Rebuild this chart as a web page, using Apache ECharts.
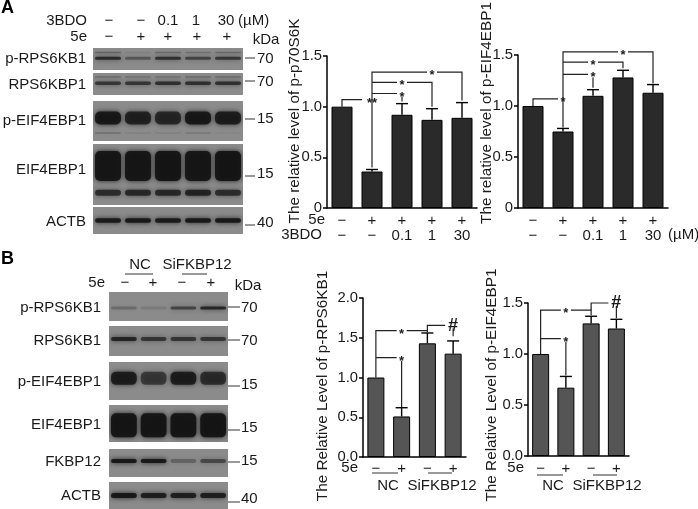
<!DOCTYPE html>
<html>
<head>
<meta charset="utf-8">
<title>3BDO blots</title>
<script src="https://cdn.jsdelivr.net/npm/echarts@6/dist/echarts.min.js"></script>
<style>
  html, body { margin: 0; padding: 0; background: #fff; }
  #main { width: 698px; height: 509px; }
</style>
</head>
<body>
<div id="main"></div>
<script>
// bar charts, panel A
const rowA5e = ["−", "+", "+", "+", "+"];
const rowA3bdo = ["−", "−", "0.1", "1", "30"];
const p70Values = [1.0, 0.36, 0.92, 0.87, 0.89];
const p70Tops = [1.0, 0.38, 1.03, 0.98, 1.04];
const peifAValues = [1.0, 0.75, 1.1, 1.28, 1.13];
const peifATops = [1.0, 0.78, 1.16, 1.35, 1.21];
const ticksA = ["0", "0.5", "1.0", "1.5"];

// bar charts, panel B
const rowB5e = ["−", "+", "−", "+"];
const rps6Values = [1.0, 0.51, 1.43, 1.3];
const rps6Tops = [1.0, 0.62, 1.56, 1.46];
const peifBValues = [1.0, 0.67, 1.3, 1.25];
const peifBTops = [1.0, 0.78, 1.37, 1.34];
const ticksB15 = ["0.0", "0.5", "1.0", "1.5"];
const ticksB20 = ["0.0", "0.5", "1.0", "1.5", "2.0"];

// significance brackets: path in [category, value], then the mark and where it sits
const bracketsP70 = [
  { path: [[0, 1.0], [0, 1.07], [1, 1.07]], mark: "**", at: [0.5, 1.07] },
  { path: [[1, 0.4], [1, 1.34], [4, 1.34], [4, 1.06]], mark: "*", at: [2.65, 1.34] },
  { path: [[1, 1.24], [3, 1.24], [3, 1.0]], mark: "*", at: [2.08, 1.24] },
  { path: [[1, 1.13], [2, 1.13], [2, 1.05]], mark: "*", at: [1.52, 1.13] }
];
const bracketsPeifA = [
  { path: [[0, 1.0], [0, 1.07], [1, 1.07]], mark: "*", at: [0.52, 1.07] },
  { path: [[1, 0.79], [1, 1.53], [4, 1.53], [4, 1.22]], mark: "*", at: [2.55, 1.53] },
  { path: [[1, 1.43], [3, 1.43], [3, 1.37]], mark: "*", at: [1.98, 1.43] },
  { path: [[1, 1.31], [2, 1.31], [2, 1.18]], mark: "*", at: [1.52, 1.31] }
];
const bracketsRps6 = [
  { path: [[0, 1.0], [0, 1.59], [2, 1.59], [2, 1.57]], mark: "*", at: [1.06, 1.59] },
  { path: [[0, 1.25], [1, 1.25], [1, 0.63]], mark: "*", at: [0.5, 1.25] },
  { path: [[2, 1.59], [2, 1.655], [3, 1.655], [3, 1.52]], mark: "#", at: [2.5, 1.655] }
];
const bracketsPeifB = [
  { path: [[0, 1.0], [0, 1.43], [2, 1.43], [2, 1.38]], mark: "*", at: [0.95, 1.43] },
  { path: [[0, 1.15], [1, 1.15], [1, 0.79]], mark: "*", at: [0.5, 1.15] },
  { path: [[2, 1.43], [2, 1.5], [3, 1.5], [3, 1.35]], mark: "#", at: [2.5, 1.5] }
];

// band strength per lane, read by eye from the blots
const aPrpsMain = [0.75, 0.4, 0.7, 0.55, 0.65];
const aPrpsUpper = [0.3, 0.08, 0.25, 0.2, 0.25];
const aRpsMain = [0.65, 0.65, 0.7, 0.7, 0.7];
const aRpsUpper = [0.25, 0.2, 0.2, 0.25, 0.25];
const aPeifMain = [0.9, 0.8, 0.75, 0.9, 0.85];
const aPeifLow = [0.18, 0.08, 0.08, 0.12, 0.04];
const aEifMain = [0.93, 0.93, 0.95, 0.93, 0.95];
const aEifLow = [0.7, 0.75, 0.75, 0.8, 0.7];
const aActb = [0.9, 0.92, 0.9, 0.92, 0.92];
const bPrps = [0.25, 0.12, 0.55, 0.8];
const bRps = [0.8, 0.65, 0.65, 0.65];
const bPeif = [0.85, 0.6, 0.85, 0.7];
const bEif = [0.95, 0.95, 0.95, 0.95];
const bFkbp = [0.92, 0.92, 0.3, 0.5];
const bActb = [0.92, 0.85, 0.85, 0.85];

const FONT = '"Liberation Sans", Arial, sans-serif';
let grids = [], xAxes = [], yAxes = [], series = [], graphics = [];

function text(x, y, str, size, align, extra) {
  graphics.push(Object.assign({
    type: "text", x: x, y: y, silent: true,
    style: {
      text: str, fontSize: size, fontFamily: FONT, fill: "#1a1a1a",
      textAlign: align || "center", textVerticalAlign: "middle"
    }
  }, extra || {}));
}

function rule(x1, x2, y, width) {
  graphics.push({
    type: "line", silent: true,
    shape: { x1: x1, y1: y, x2: x2, y2: y },
    style: { stroke: "#333", lineWidth: width || 1 }
  });
}

function barChart(cfg) {
  let idx = grids.length;
  grids.push({ left: cfg.left, top: cfg.top, width: cfg.width, height: cfg.height, containLabel: false });
  xAxes.push({
    gridIndex: idx,
    type: "category",
    data: cfg.labels,
    axisLine: { lineStyle: { color: "#000", width: 1.5 } },
    axisTick: { show: false },
    axisLabel: {
      interval: 0, margin: cfg.labelMargin, color: "#1a1a1a", fontFamily: FONT,
      fontSize: 15, lineHeight: 15
    }
  });
  yAxes.push({
    gridIndex: idx,
    type: "value",
    min: 0,
    max: cfg.max,
    interval: 0.5,
    splitLine: { show: false },
    axisLine: { show: true, lineStyle: { color: "#000", width: 1.5 } },
    axisTick: { show: true, length: 4, lineStyle: { color: "#000", width: 1.5 } },
    axisLabel: {
      margin: 5, color: "#1a1a1a", fontFamily: FONT, fontSize: 14.8,
      formatter: (v, i) => cfg.ticks[i]
    }
  });
  series.push({
    type: "bar",
    xAxisIndex: idx,
    yAxisIndex: idx,
    data: cfg.values,
    barWidth: cfg.barWidth,
    itemStyle: { color: cfg.color, borderColor: "#000", borderWidth: 1 },
    silent: true
  });
  // error bars, upper half only
  series.push({
    type: "custom",
    xAxisIndex: idx,
    yAxisIndex: idx,
    silent: true,
    clip: false,
    data: cfg.values.map((v, i) => [i, v, cfg.tops[i]]),
    renderItem: (params, api) => {
      let base = api.coord([api.value(0), api.value(1)]);
      let top = api.coord([api.value(0), api.value(2)]);
      if (base[1] - top[1] < 0.5) return null;
      let style = { stroke: "#000", lineWidth: 1.4, fill: null };
      return {
        type: "group",
        children: [
          { type: "line", shape: { x1: base[0], y1: base[1], x2: top[0], y2: top[1] }, style: style },
          { type: "line", shape: { x1: top[0] - 6, y1: top[1], x2: top[0] + 6, y2: top[1] }, style: style }
        ]
      };
    }
  });
  // brackets and stars
  series.push({
    type: "custom",
    xAxisIndex: idx,
    yAxisIndex: idx,
    silent: true,
    clip: false,
    z: 5,
    data: cfg.brackets.map((b, i) => [i]),
    renderItem: (params, api) => {
      let b = cfg.brackets[params.dataIndex];
      let at = api.coord(b.at);
      let hash = b.mark === "#";
      return {
        type: "group",
        children: [
          {
            type: "polyline",
            shape: { points: b.path.map(p => api.coord(p)) },
            style: { stroke: "#222", lineWidth: 1.2, fill: null }
          },
          {
            type: "rect",
            shape: { x: at[0] - (hash ? 8 : b.mark.length * 5), y: at[1] - 3, width: hash ? 16 : b.mark.length * 10, height: 6 },
            style: { fill: "#fff" }
          },
          {
            type: "text",
            x: at[0],
            y: at[1] + (hash ? 0.5 : 3.5),
            style: {
              text: b.mark, fontFamily: FONT, fontSize: hash ? 18 : 13, fontWeight: "bold",
              fill: "#1a1a1a", textAlign: "center", textVerticalAlign: "middle"
            }
          }
        ]
      };
    }
  });
}

function blot(cfg) {
  let idx = grids.length;
  grids.push({
    left: cfg.left, top: cfg.top, width: cfg.width, height: cfg.height,
    show: true, backgroundColor: "#8b8b8b", borderWidth: 0, containLabel: false
  });
  xAxes.push({ gridIndex: idx, type: "category", show: false, data: cfg.bands[0].values.map((v, i) => i) });
  yAxes.push({ gridIndex: idx, type: "value", show: false, min: 0, max: 1 });
  let data = [];
  cfg.bands.forEach(b => b.values.forEach((v, i) => data.push([i, b.y, v, b.h])));
  series.push({
    type: "custom",
    xAxisIndex: idx,
    yAxisIndex: idx,
    silent: true,
    clip: true,
    data: data,
    renderItem: (params, api) => {
      let c = api.coord([api.value(0), api.value(1)]);
      let strength = api.value(2);
      let h = api.value(3);
      let w = cfg.width / cfg.bands[0].values.length - 4;
      let color = "rgba(20,20,20," + strength + ")";
      return {
        type: "rect",
        shape: { x: c[0] - w / 2, y: c[1] - h / 2, width: w, height: h, r: Math.min(h / 2, 5) },
        style: { fill: color, shadowBlur: 5, shadowColor: color }
      };
    }
  });
}

// ---- panel A blots
blot({ left: 93, top: 48, width: 150, height: 22, bands: [{ y: 0.8, h: 1.5, values: aPrpsUpper }, { y: 0.53, h: 3, values: aPrpsMain }] });
blot({ left: 93, top: 73, width: 150, height: 22, bands: [{ y: 0.82, h: 1.5, values: aRpsUpper }, { y: 0.53, h: 3.5, values: aRpsMain }] });
blot({ left: 93, top: 101, width: 150, height: 40, bands: [{ y: 0.575, h: 13, values: aPeifMain }, { y: 0.2, h: 2, values: aPeifLow }] });
blot({ left: 93, top: 144, width: 150, height: 61, bands: [{ y: 0.64, h: 30, values: aEifMain }, { y: 0.2, h: 6, values: aEifLow }] });
blot({ left: 93, top: 207, width: 150, height: 27, bands: [{ y: 0.5, h: 4.5, values: aActb }] });

// ---- panel B blots
blot({ left: 109, top: 292, width: 119, height: 29, bands: [{ y: 0.45, h: 3, values: bPrps }] });
blot({ left: 109, top: 326, width: 119, height: 30, bands: [{ y: 0.57, h: 4, values: bRps }] });
blot({ left: 109, top: 362, width: 119, height: 38, bands: [{ y: 0.57, h: 13, values: bPeif }] });
blot({ left: 109, top: 405, width: 119, height: 37, bands: [{ y: 0.45, h: 24, values: bEif }] });
blot({ left: 109, top: 449, width: 119, height: 28, bands: [{ y: 0.57, h: 4, values: bFkbp }] });
blot({ left: 109, top: 482, width: 119, height: 27, bands: [{ y: 0.5, h: 5, values: bActb }] });

// ---- bar charts
barChart({
  left: 327, top: 56, width: 150, height: 152, max: 1.5, barWidth: 21, color: "#2a2a2a", ticks: ticksA, labelMargin: 5,
  labels: rowA5e.map((s, i) => s + "\n" + rowA3bdo[i]), values: p70Values, tops: p70Tops, brackets: bracketsP70
});
barChart({
  left: 518, top: 55, width: 150, height: 153, max: 1.5, barWidth: 21, color: "#2a2a2a", ticks: ticksA, labelMargin: 5,
  labels: rowA5e.map((s, i) => s + "\n" + rowA3bdo[i]), values: peifAValues, tops: peifATops, brackets: bracketsPeifA
});
barChart({
  left: 363, top: 298, width: 103, height: 159, max: 2.0, barWidth: 17, color: "#555555", ticks: ticksB20, labelMargin: 4,
  labels: rowB5e, values: rps6Values, tops: rps6Tops, brackets: bracketsRps6
});
barChart({
  left: 528, top: 303, width: 101, height: 153, max: 1.5, barWidth: 17, color: "#555555", ticks: ticksB15, labelMargin: 5,
  labels: rowB5e, values: peifBValues, tops: peifBTops, brackets: bracketsPeifB
});

// ---- text
const UP = { rotation: Math.PI / 2 };
text(295, 121, "The relative level of p-p70S6K", 15.3, "center", UP);
text(487, 113, "The relative level of p-EIF4EBP1", 15.3, "center", UP);
text(323, 386, "The Relative Level of p-RPS6KB1", 15.3, "center", UP);
text(492, 385, "The Relative Level of p-EIF4EBP1", 15.3, "center", UP);

text(325, 220, "5e", 15, "right");
text(322, 235, "3BDO", 15, "right");
text(668, 235, "(µM)", 15, "left");
text(358, 468, "5e", 15, "right");
text(524, 468, "5e", 15, "right");
rule(372, 398, 473); rule(428, 452, 473);
rule(537, 563, 475); rule(593, 617, 475);
text(388, 486, "NC", 15);
text(442, 486, "SiFKBP12", 15);
text(553, 486, "NC", 15);
text(607, 486, "SiFKBP12", 15);

text(1, 8, "A", 18, "left", { style: { text: "A", fontSize: 18, fontWeight: "bold", fontFamily: FONT, fill: "#000", textAlign: "left", textVerticalAlign: "middle" } });
text(1, 259, "B", 18, "left", { style: { text: "B", fontSize: 18, fontWeight: "bold", fontFamily: FONT, fill: "#000", textAlign: "left", textVerticalAlign: "middle" } });

// header of blot A
text(87, 21, "3BDO", 15, "right");
text(87, 37, "5e", 15, "right");
["−", "−", "0.1", "1", "30"].forEach((s, i) => text([109, 141, 168, 196, 226][i], 21, s, 15));
["−", "+", "+", "+", "+"].forEach((s, i) => text([109, 141, 168, 197, 227][i], 37, s, 15));
text(238, 21, "(µM)", 15, "left");
text(266, 40, "kDa", 15);

// blot labels
[["p-RPS6KB1", 59], ["RPS6KBP1", 85], ["p-EIF4EBP1", 121], ["EIF4EBP1", 170], ["ACTB", 222]].forEach(l => text(86, l[1], l[0], 15, "right"));
[["p-RPS6KB1", 308], ["RPS6KB1", 341], ["p-EIF4EBP1", 382], ["EIF4EBP1", 425], ["FKBP12", 462], ["ACTB", 496]].forEach(l => text(101, l[1], l[0], 15, "right"));

// size markers
[["70", 59, 58], ["70", 82, 81], ["15", 119, 119], ["15", 174, 176], ["40", 223, 225]].forEach(m => {
  rule(245, 255, m[2]);
  text(257, m[1], m[0], 15, "left");
});
[["70", 308, 307], ["70", 341, 340], ["15", 385, 386], ["15", 428, 430], ["15", 461, 462], ["40", 499, 502]].forEach(m => {
  rule(228, 240, m[2]);
  text(241, m[1], m[0], 15, "left");
});

// header of blot B
text(140, 265, "NC", 15);
text(197, 265, "SiFKBP12", 15);
rule(125, 153, 274); rule(182, 207, 274);
text(105, 283, "5e", 15, "right");
["−", "+", "−", "+"].forEach((s, i) => text([125, 153, 182, 211][i], 283, s, 15));
text(248, 286, "kDa", 15);

let chart = echarts.init(document.getElementById("main"), null, { renderer: "canvas" });
chart.setOption({
  animation: false,
  backgroundColor: "#fff",
  grid: grids,
  xAxis: xAxes,
  yAxis: yAxes,
  series: series,
  graphic: { elements: graphics }
});
</script>
</body>
</html>
